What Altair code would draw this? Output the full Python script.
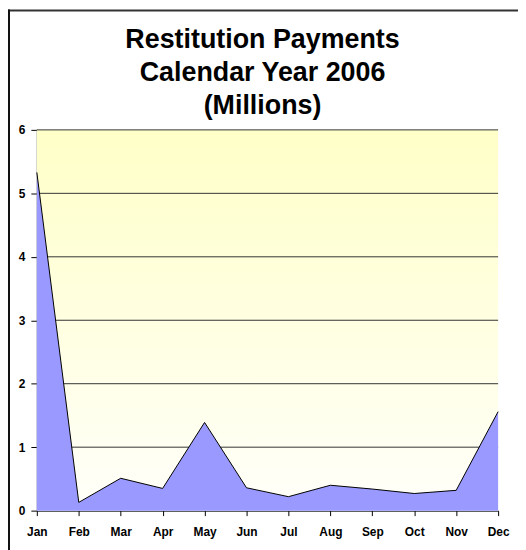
import altair as alt
import pandas as pd

months = ["Jan", "Feb", "Mar", "Apr", "May", "Jun", "Jul", "Aug", "Sep", "Oct", "Nov", "Dec"]
payments = [5.33, 0.13, 0.51, 0.35, 1.39, 0.36, 0.22, 0.40, 0.34, 0.27, 0.32, 1.56]
grid_values = [1, 2, 3, 4, 5, 6]
y_ticks = [0, 1, 2, 3, 4, 5, 6]
title_lines = ["Restitution Payments", "Calendar Year 2006", "(Millions)"]

df = pd.DataFrame({"month": months, "value": payments})
grid_df = pd.DataFrame({"v": grid_values})

W, H = 464, 383

xscale = alt.Scale(type="point", domain=months, padding=0)
yscale = alt.Scale(domain=[0, 6], nice=False)
yaxis = alt.Axis(values=y_ticks, labelFont="Liberation Sans", labelFontWeight="bold",
                 labelFontSize=12, labelColor="#000000", labelPadding=6,
                 domainColor="#000000", tickColor="#000000", tickSize=6,
                 grid=False, title=None)

bg = alt.Chart(alt.Data(values=[{"a": 1}])).mark_rect(
    color=alt.Gradient(
        gradient="linear", x1=0, y1=0, x2=0, y2=1,
        stops=[alt.GradientStop(color="#FFFFC8", offset=0),
               alt.GradientStop(color="#FFFFFA", offset=1)]
    )
).encode(x=alt.value(0), x2=alt.value(W), y=alt.value(0), y2=alt.value(H))

grid = alt.Chart(grid_df).mark_rule(color="#333333", strokeWidth=1).encode(
    y=alt.Y("v:Q", scale=yscale, axis=yaxis, title=None)
)

area = alt.Chart(df).mark_area(
    color="#9999FF", opacity=1, line=alt.LineConfig(color="#000000", strokeWidth=1)
).encode(
    x=alt.X("month:N", scale=xscale, sort=months, title=None,
            axis=alt.Axis(labelAngle=0, labelFont="Liberation Sans", labelFontWeight="bold",
                          labelFontSize=12, labelColor="#000000", labelPadding=11,
                          domainColor="#000000", tickColor="#000000", tickSize=5,
                          domainWidth=1, grid=False)),
    y=alt.Y("value:Q", scale=yscale, title=None, axis=yaxis)
)

title_y = [-82, -49, -16]
title_layers = [
    alt.Chart(alt.Data(values=[{"t": line}])).mark_text(
        font="Liberation Sans", fontSize=27, fontWeight="bold", color="#000000",
        align="center", baseline="alphabetic"
    ).encode(x=alt.value(227), y=alt.value(yy), text="t:N")
    for line, yy in zip(title_lines, title_y)
]

border_top = alt.Chart(alt.Data(values=[{"a": 1}])).mark_rule(color="#333333", strokeWidth=2).encode(
    x=alt.value(-29), x2=alt.value(W + 40), y=alt.value(-120)
)
border_left = alt.Chart(alt.Data(values=[{"a": 1}])).mark_rule(color="#111111", strokeWidth=2).encode(
    x=alt.value(-28), y=alt.value(-121), y2=alt.value(H + 40)
)

chart = alt.layer(bg, grid, area, *title_layers, border_top, border_left).properties(
    width=W, height=H,
    autosize=alt.AutoSizeParams(type="none"),
    padding={"left": 29, "top": 121, "right": 20, "bottom": 38},
    background="#FFFFFF"
).configure_view(stroke=None)

chart.save("out.html", embed_options={"renderer": "svg", "actions": False})
